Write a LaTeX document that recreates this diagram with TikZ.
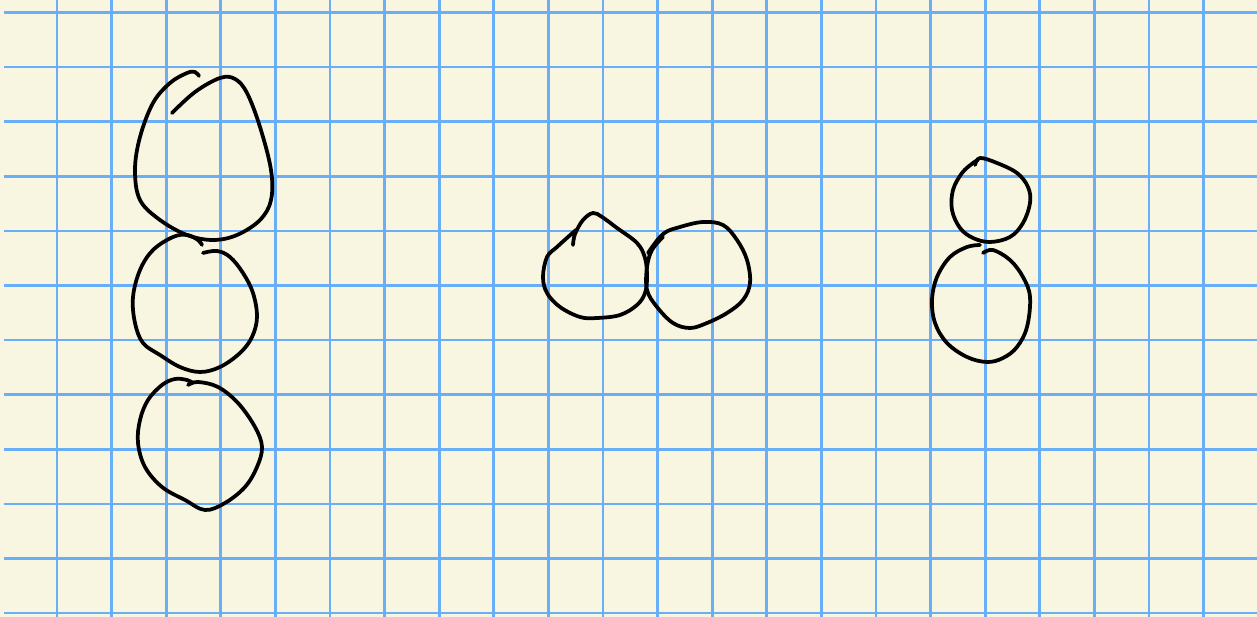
\documentclass[tikz,border=0pt]{standalone}
\usepackage{tikz}
\usepackage{xcolor}
\definecolor{paper}{RGB}{248,245,225}
\definecolor{rule}{RGB}{105,175,248}

\begin{document}
\begin{tikzpicture}[x=0.02cm,y=-0.02cm,ink/.style={black,line width=0.075cm,line cap=round,line join=round}]
\useasboundingbox (0,0) rectangle (1257,617);
\fill[paper] (0,0) rectangle (1257,617);
\foreach \k in {0,...,21} \draw[rule,line width=0.055cm] (57+54.6*\k,0) -- (57+54.6*\k,617);
\foreach \k in {0,...,11} \draw[rule,line width=0.055cm] (4,12.5+54.6*\k) -- (1257,12.5+54.6*\k);
% left column
\draw[ink] plot[smooth,tension=0.6] coordinates {(172,113) (195,92) (220,78) (235,79) (247,93) (260,127) (271,170) (271,200) (260,220) (237,235) (213,240) (187,235) (160,220) (140,200) (135,170) (140,137) (153,103) (170,83) (187,73) (195,72) (199,76)};
\draw[ink] plot[smooth,tension=0.6] coordinates {(203,253) (217,251) (230,257) (243,273) (253,293) (257,317) (252,337) (240,353) (220,367) (200,372) (180,367) (160,355) (143,343) (135,323) (133,297) (140,270) (153,250) (173,237) (187,235) (198,240) (202,245)};
\draw[ink] plot[smooth,tension=0.6] coordinates {(188,385) (198,382) (218,387) (238,403) (255,427) (262,447) (257,467) (245,487) (225,503) (205,510) (185,500) (162,487) (145,467) (138,443) (140,420) (148,400) (162,385) (175,379) (187,380) (193,383)};
% middle pair
\draw[ink] plot[smooth,tension=0.6] coordinates {(573,245) (575,234) (583,220) (593,213) (602,217) (617,228) (637,243) (645,258) (647,277) (645,293) (637,305) (620,315) (597,318) (580,317) (560,307) (547,293) (543,277) (547,257) (557,247) (568,237) (576,230)};
\draw[ink] plot[smooth,tension=0.6] coordinates {(648,253) (663,234) (680,227) (703,222) (723,225) (737,240) (747,260) (750,283) (743,300) (727,313) (707,323) (690,328) (673,323) (657,307) (647,290) (647,267) (652,250) (663,237)};
% right pair
\draw[ink] plot[smooth,tension=0.6] coordinates {(975,165) (980,158) (997,163) (1017,173) (1028,187) (1030,203) (1023,223) (1010,237) (990,242) (973,238) (960,228) (952,210) (953,190) (962,173) (973,163) (978,160)};
\draw[ink] plot[smooth,tension=0.6] coordinates {(983,253) (993,250) (1010,260) (1023,277) (1030,297) (1027,327) (1017,347) (1003,358) (987,362) (967,357) (947,343) (935,323) (932,300) (937,277) (950,257) (967,247) (980,245)};
\end{tikzpicture}
\end{document}
